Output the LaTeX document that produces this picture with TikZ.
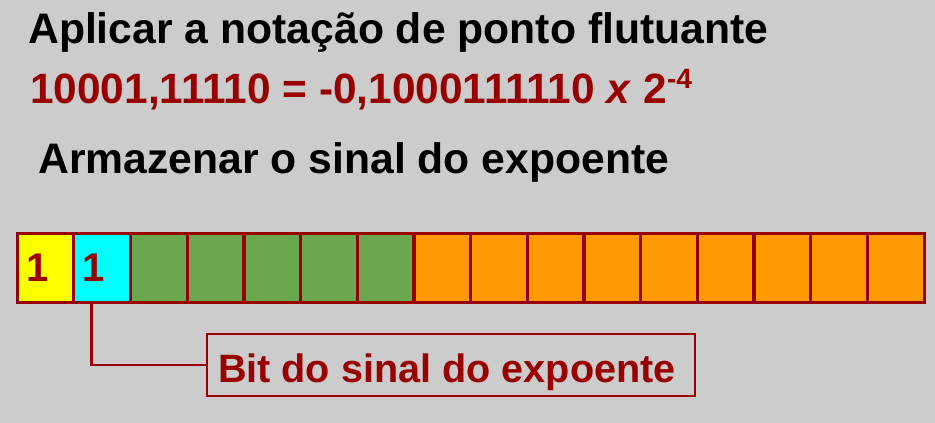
\documentclass[tikz,border=0pt]{standalone}
\usepackage{fontspec}
\setmainfont{Liberation Sans}
\usetikzlibrary{positioning,calc}
\definecolor{bggray}{HTML}{CCCCCC}
\definecolor{darkred}{HTML}{990000}
\definecolor{signyellow}{HTML}{FFFF00}
\definecolor{expcyan}{HTML}{00FFFF}
\definecolor{expgreen}{HTML}{6AA84F}
\definecolor{mantorange}{HTML}{FF9900}
\tikzset{
  bitcell/.style={draw=darkred, line width=3.3pt, text width=38.69pt, inner xsep=9pt, inner ysep=0pt,
    align=left, minimum height=69.5pt, anchor=north west, font=\fontsize{40}{44}\selectfont\bfseries, text=darkred},
  headline/.style={anchor=base west, inner sep=0pt, font=\fontsize{42.7}{50}\selectfont\bfseries}
}

\begin{document}
\begin{tikzpicture}[x=1pt, y=-1pt]
    % Background
    \fill[bggray] (0, 0) rectangle (935, 423);
    \useasboundingbox (0, 0) rectangle (935, 423);

    % Titles
    \node[headline] (title) at (28, 43) {Aplicar a notação de ponto flutuante};
    \node[headline, text=darkred, font=\fontsize{42.4}{50}\selectfont\bfseries] (formula) at (30, 103)
        {10001,11110 = -0,1000111110 \textit{x} 2\raisebox{15pt}{\fontsize{28}{30}\selectfont -4}};
    \node[headline] (step) at (38, 173) {Armazenar o sinal do expoente};

    % Bits
    \node[bitcell, fill=signyellow] (c1) at (15.5, 231.5) {1};
    \node[bitcell, fill=expcyan] (c2) at (72.19, 231.5) {1};
    \foreach \i in {3,...,7}
        \node[bitcell, fill=expgreen] (c\i) at ({15.5+56.69*(\i-1)}, 231.5) {};
    \foreach \i in {8,...,16}
        \node[bitcell, fill=mantorange] (c\i) at ({15.5+56.69*(\i-1)}, 231.5) {};

    % Label
    \node[draw=darkred, line width=2.5pt, inner xsep=11pt, inner ysep=0pt,
          text height=34pt, text depth=0pt, minimum height=62pt,
          text=darkred, font=\fontsize{39.6}{44}\selectfont\bfseries] (label) at (451, 365)
        {\makebox[466pt][l]{Bit do sinal do expoente}};
    \coordinate (tap) at ($(c2.south west)+(19.5, 0)$);
    \draw[darkred, line width=2.5pt] (tap) |- (label.west);
\end{tikzpicture}
\end{document}
